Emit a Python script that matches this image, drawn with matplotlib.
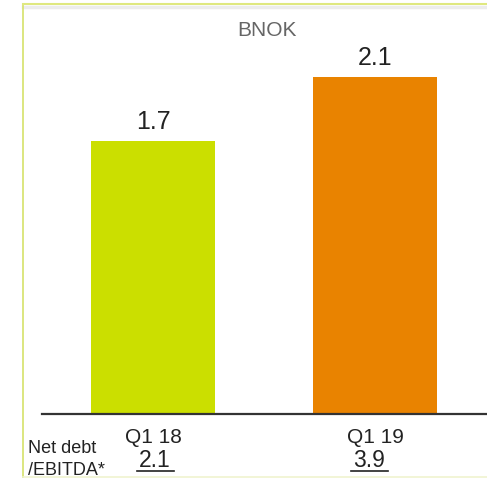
import matplotlib.pyplot as plt
from matplotlib.lines import Line2D

plt.rcParams['font.family'] = ['Liberation Sans', 'DejaVu Sans']

quarters = ['Q1 18', 'Q1 19']
values = [1.7, 2.1]
leverage = ['2.1', '3.9']
bar_colors = ['#cbdf00', '#e98300']

W, H = 487, 478
fig = plt.figure(figsize=(W / 100, H / 100), dpi=100)


def fx(px):
    return px / W


def fy(py):
    return 1 - py / H


# axes: baseline at y=414, top at y=4, x from 42 to 486
ax = fig.add_axes([fx(42), fy(414), fx(486) - fx(42), fy(4) - fy(414)])
ax.bar(range(len(values)), values, width=0.56, color=bar_colors)
ax.set_xlim(-0.5, 1.5)
ax.set_ylim(0, 410 / 160.5)
for i, v in enumerate(values):
    ax.annotate(f'{v:.1f}', (i, v), xytext=(0, 8.6), textcoords='offset points',
                ha='center', va='baseline', fontsize=18, color='#222222')
for s in ['top', 'right', 'left']:
    ax.spines[s].set_visible(False)
ax.spines['bottom'].set_color('#333333')
ax.spines['bottom'].set_linewidth(1.6)
ax.set_xticks([])
ax.set_yticks([])
ax.patch.set_alpha(0)

# frame around the panel
fig.add_artist(Line2D([fx(22.5), fx(22.5)], [fy(4), fy(478)], color='#d6e26a', lw=1.2))
fig.add_artist(Line2D([fx(22.5), 1], [fy(4), fy(4)], color='#dfe87f', lw=1.5))
fig.add_artist(Line2D([fx(23), 1], [fy(6.5), fy(6.5)], color='#ececec', lw=2.5, zorder=0))
fig.add_artist(Line2D([fx(23), 1], [fy(476.5), fy(476.5)], color='#f0f4cf', lw=1.2))

fig.text(fx(267), fy(35.7), 'BNOK', ha='center', va='baseline', fontsize=15, color='#666666')

x_centers = [153.5, 375]
lev_centers = [155, 369.5]
for q, xc in zip(quarters, x_centers):
    fig.text(fx(xc), fy(443), q, ha='center', va='baseline', fontsize=15, color='#222222')
for l, xc in zip(leverage, lev_centers):
    fig.text(fx(xc), fy(467), l, ha='center', va='baseline', fontsize=16.5, color='#222222')
    fig.add_artist(Line2D([fx(xc - 18.5), fx(xc + 18.5)], [fy(471), fy(471)],
                          color='#222222', lw=1.2))

fig.text(fx(28), fy(453), 'Net debt', ha='left', va='baseline', fontsize=13, color='#222222')
fig.text(fx(28), fy(475), '/EBITDA*', ha='left', va='baseline', fontsize=13, color='#222222')

fig.savefig('out.png', dpi=100)
